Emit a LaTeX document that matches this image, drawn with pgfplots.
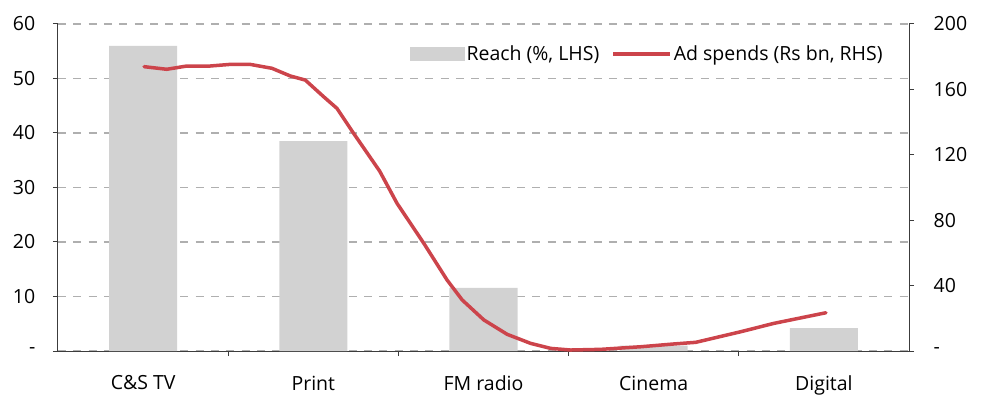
\documentclass[border=0pt]{standalone}
\usepackage{pgfplots}
\pgfplotsset{compat=1.18}
\usepackage{fontspec}
\setmainfont{Open Sans}
\definecolor{barcol}{RGB}{210,210,210}
\definecolor{linecol}{RGB}{204,68,75}
\definecolor{gridcol}{RGB}{175,175,175}
\definecolor{axcol}{RGB}{60,60,60}
\newcommand{\tfont}{\fontsize{19.5}{23}\selectfont}
\begin{document}
\tfont
\begin{tikzpicture}
\path[use as bounding box] (0,0) rectangle (981pt,396pt);
\begin{axis}[
  at={(58pt,45pt)}, anchor=south west, scale only axis,
  width=851pt, height=327pt,
  xmin=-0.5, xmax=4.5, ymin=0, ymax=60,
  axis x line*=bottom, axis y line*=left,
  axis line style={-, axcol, line width=1pt},
  xtick={0,1,2,3,4},
  xticklabels={C\&S TV,Print,FM radio,Cinema,Digital},
  minor xtick={0.5,1.5,2.5,3.5},
  major x tick style={draw=none},
  minor x tick style={axcol, line width=1pt},
  ytick={0,10,20,30,40,50,60},
  yticklabels={{-\hspace{28pt}},10,20,30,40,50,60},
  y tick style={axcol, line width=1pt},
  tick align=outside, major tick length=5pt, minor tick length=5pt,
  ymajorgrids,
  grid style={gridcol, line width=1.4pt, dash pattern=on 8pt off 7.3pt},
  /pgf/number format/assume math mode=true,
  yticklabel style={anchor=east, xshift=-11pt, font=\tfont},
  xticklabel style={yshift=-13pt, font=\tfont},
  legend columns=2,
  legend style={draw=none, fill=none, at={(0.975,0.908)}, anchor=east,
    font=\tfont,
    /tikz/every even column/.append style={column sep=10pt}},
]
\addplot[ybar, bar width=0.4, fill=barcol, draw=none,
  legend image code/.code={\fill[barcol] (-8pt,-7pt) rectangle (47pt,7pt);}]
  coordinates {(0,56.0) (1,38.5) (2,11.6) (3,1.0) (4,4.2)};
\addlegendentry{Reach (\%, LHS)}
\addlegendimage{linecol, line width=3.5pt,
  legend image code/.code={\draw[linecol, line width=3.5pt] (0pt,0pt) -- (57pt,0pt);}}
\addlegendentry{Ad spends (Rs bn, RHS)}
\end{axis}
\begin{axis}[
  at={(58pt,45pt)}, anchor=south west, scale only axis,
  width=851pt, height=327pt,
  xmin=-0.5, xmax=4.5, ymin=0, ymax=200,
  axis x line=none, axis y line*=right,
  axis line style={-, axcol, line width=1pt},
  ytick={0,40,80,120,160,200},
  yticklabels={-,40,80,120,160,200},
  y tick style={axcol, line width=1pt},
  tick align=outside, major tick length=5pt,
  /pgf/number format/assume math mode=true,
  yticklabel style={anchor=west, xshift=13pt, font=\tfont},
]
\addplot[linecol, line width=3.5pt, line join=round, line cap=round] coordinates {
(0.006,173.9) (0.139,172.3) (0.257,174.3) (0.394,174.3) (0.512,175.3)
(0.629,175.3) (0.757,172.9) (0.865,168.2) (0.953,165.7) (1.061,155.5)
(1.139,148.4) (1.237,133.1) (1.390,110.0) (1.492,90.3) (1.649,65.9)
(1.786,43.4) (1.875,31.2) (2.002,19.0) (2.139,10.2) (2.276,4.7)
(2.394,1.6) (2.512,0.6) (2.688,1.0) (2.924,2.6) (3.118,4.3)
(3.247,5.3) (3.512,11.8) (3.706,16.9) (4.012,23.4)
};
\end{axis}
\end{tikzpicture}
\end{document}
